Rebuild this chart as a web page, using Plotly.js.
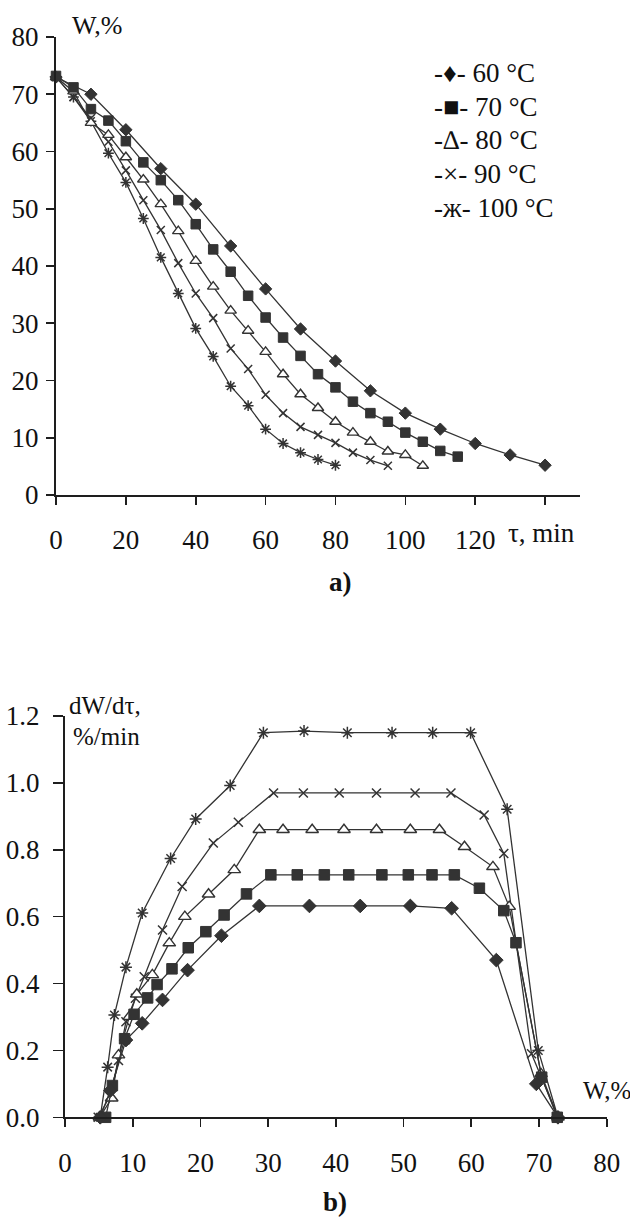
<!DOCTYPE html>
<html><head><meta charset="utf-8">
<script src="https://cdn.plot.ly/plotly-3.0.1.min.js"></script>
<style>html,body{margin:0;padding:0;background:#fff}#chart{width:630px;height:1217px}</style>
</head><body><div id="chart"></div>
<script>
// ---------- data: chart a) W vs tau ----------
const seriesNames = ['60 °C', '70 °C', '80 °C', '90 °C', '100 °C'];
const legendLabels = ['-♦- 60 °C', '-■- 70 °C', '-∆- 80 °C', '-×- 90 °C', '-ж- 100 °C'];

const tau60 = [0, 10, 20, 30, 40, 50, 60, 70, 80, 90, 100, 110, 120, 130, 140];
const W60 = [73, 70, 63.8, 57, 50.8, 43.5, 36, 29, 23.4, 18.2, 14.3, 11.5, 9, 7, 5.2];

const tau70 = [0, 5, 10, 15, 20, 25, 30, 35, 40, 45, 50, 55, 60, 65, 70, 75, 80, 85, 90, 95, 100, 105, 110, 115];
const W70 = [73.2, 71.2, 67.4, 65.4, 61.8, 58.1, 55, 51.5, 47.3, 42.9, 39, 34.8, 31, 27.5, 24.3, 21.1, 18.8, 16.3, 14.3, 12.8, 10.9, 9.3, 7.7, 6.7];

const tau80 = [0, 5, 10, 15, 20, 25, 30, 35, 40, 45, 50, 55, 60, 65, 70, 75, 80, 85, 90, 95, 100, 105];
const W80 = [73, 70.5, 65, 62.9, 59, 55.1, 50.8, 46.1, 40.9, 36.4, 32.2, 28.7, 25, 21.1, 17.6, 15.2, 12.8, 10.9, 9.3, 7.6, 7.0, 5.1];

const tau90 = [0, 5, 10, 15, 20, 25, 30, 35, 40, 45, 50, 55, 60, 65, 70, 75, 80, 85, 90, 95];
const W90 = [73, 69.5, 65.8, 61.7, 56.7, 51.5, 46.3, 40.5, 35.2, 30.9, 25.6, 22, 17.5, 14.3, 11.9, 10.5, 9.1, 7.4, 6.1, 5.1];

const tau100 = [0, 5, 10, 15, 20, 25, 30, 35, 40, 45, 50, 55, 60, 65, 70, 75, 80];
const W100 = [73, 69.5, 65.3, 59.7, 54.6, 48.3, 41.5, 35.2, 29.1, 24.2, 19, 15.6, 11.5, 9, 7.4, 6.2, 5.2];

const xTopTickVals = [0, 20, 40, 60, 80, 100, 120, 140];
const xTopTickText = ['0', '20', '40', '60', '80', '100', '120', ''];
const yTopTickVals = [0, 10, 20, 30, 40, 50, 60, 70, 80];

// ---------- data: chart b) dW/dtau vs W ----------
const Wb60 = [5.2, 6.7, 9.0, 11.4, 14.4, 18.1, 23.1, 28.7, 36.1, 43.6, 51.0, 57.1, 63.7, 69.6, 72.8];
const R60 = [0, 0.08, 0.231, 0.281, 0.351, 0.44, 0.543, 0.632, 0.632, 0.632, 0.632, 0.625, 0.47, 0.10, 0];

const Wb70 = [6.0, 7.0, 8.8, 10.2, 12.2, 13.6, 15.8, 18.2, 20.8, 23.5, 26.8, 30.4, 34.3, 38.3, 41.9, 46.8, 50.7, 54.2, 57.5, 61.2, 64.8, 66.6, 70.4, 72.7];
const R70 = [0, 0.095, 0.235, 0.308, 0.357, 0.397, 0.444, 0.507, 0.555, 0.605, 0.668, 0.725, 0.725, 0.725, 0.725, 0.725, 0.725, 0.725, 0.725, 0.685, 0.618, 0.522, 0.12, 0];

const Wb80 = [5.1, 6.9, 7.9, 9.5, 10.6, 12.9, 15.4, 17.7, 21.2, 25.0, 28.7, 32.2, 36.5, 41.2, 46.0, 51.0, 55.3, 59.0, 63.2, 65.6, 70.3, 72.8];
const R80 = [0, 0.057, 0.186, 0.301, 0.368, 0.426, 0.521, 0.6, 0.667, 0.74, 0.86, 0.86, 0.86, 0.86, 0.86, 0.86, 0.86, 0.809, 0.749, 0.63, 0.13, 0];

const Wb90 = [4.9, 6.6, 7.9, 9.0, 10.4, 11.7, 14.4, 17.3, 21.9, 25.6, 30.8, 35.2, 40.5, 46.0, 51.7, 57.0, 61.9, 64.8, 68.9, 72.8];
const R90 = [0, 0.062, 0.17, 0.286, 0.356, 0.42, 0.56, 0.69, 0.82, 0.882, 0.97, 0.97, 0.97, 0.97, 0.97, 0.97, 0.904, 0.789, 0.19, 0];

const Wb100 = [5.2, 6.3, 7.3, 9.0, 11.4, 15.6, 19.3, 24.4, 29.3, 35.3, 41.7, 48.3, 54.3, 59.9, 65.3, 69.9, 72.8];
const R100 = [0, 0.15, 0.306, 0.449, 0.611, 0.774, 0.892, 0.992, 1.15, 1.155, 1.15, 1.15, 1.15, 1.15, 0.921, 0.20, 0];

const xBotTickVals = [0, 10, 20, 30, 40, 50, 60, 70, 80];
const yBotTickVals = [0, 0.2, 0.4, 0.6, 0.8, 1.0, 1.2];

// ---------- styling ----------
const INK = '#333';
const AX = '#1e1e1e';
const FONT = 'Liberation Serif';
const markerStyles = [
  {symbol: 'diamond', size: 9.5, color: INK, line: {color: INK, width: 1}},
  {symbol: 'square', size: 9.5, color: INK, line: {color: INK, width: 1}},
  {symbol: 'triangle-up', size: 10, color: '#fff', line: {color: INK, width: 1.4}},
  {symbol: 'x-thin-open', size: 8, color: INK, line: {color: INK, width: 1.5}},
  {symbol: 'asterisk-open', size: 9, color: INK, line: {color: INK, width: 1.5}}
];

const topX = [tau60, tau70, tau80, tau90, tau100];
const topY = [W60, W70, W80, W90, W100];
const botX = [Wb60, Wb70, Wb80, Wb90, Wb100];
const botY = [R60, R70, R80, R90, R100];

const traces = [];
for (let i = 4; i >= 0; i--) {
  traces.push({
    type: 'scatter', mode: 'lines+markers', name: seriesNames[i],
    x: topX[i], y: topY[i], xaxis: 'x', yaxis: 'y',
    line: {color: INK, width: 1.3}, marker: markerStyles[i],
    cliponaxis: false, showlegend: false
  });
}
for (let i = 4; i >= 0; i--) {
  traces.push({
    type: 'scatter', mode: 'lines+markers', name: seriesNames[i],
    x: botX[i], y: botY[i], xaxis: 'x2', yaxis: 'y2',
    line: {color: INK, width: 1.3}, marker: Object.assign({}, markerStyles[i], {size: markerStyles[i].size + 1}),
    cliponaxis: false, showlegend: false
  });
}

const W = 630, H = 1217;
const PX = p => p / W;
const PY = p => 1 - p / H;

const axisCommon = {
  showline: true, linecolor: AX, linewidth: 2,
  ticks: 'outside', ticklen: 8, tickwidth: 1.6, tickcolor: AX,
  showgrid: false, zeroline: false, fixedrange: true,
  tickfont: {family: FONT, size: 27, color: '#111'}
};

const ann = (text, x, y, xa, size, extra) => Object.assign({
  text: text, x: PX(x), y: PY(y), xref: 'paper', yref: 'paper',
  xanchor: xa, yanchor: 'middle', showarrow: false,
  font: {family: FONT, size: size, color: '#111'}
}, extra || {});

const annotations = [
  ann('W,%', 70, 25, 'left', 26),
  ann('τ, min', 506, 533, 'left', 27),
  ann('<b>a)</b>', 340, 582, 'center', 27),
  ann('dW/dτ,', 67, 705, 'left', 25),
  ann('%/min', 71, 737, 'left', 25),
  ann('W,%', 581, 1090, 'left', 25),
  ann('<b>b)</b>', 335, 1202, 'center', 27)
];
const legendRows = [73, 107, 140, 174, 208];
legendLabels.forEach((t, i) => annotations.push(ann(t, 432, legendRows[i], 'left', 27)));

const layout = {
  width: W, height: H,
  margin: {l: 0, r: 0, t: 0, b: 0},
  paper_bgcolor: '#fff', plot_bgcolor: '#fff',
  font: {family: FONT, color: '#111'},
  showlegend: false,
  xaxis: Object.assign({}, axisCommon, {
    domain: [PX(56), PX(580)], range: [0, 150], anchor: 'y',
    tickmode: 'array', tickvals: xTopTickVals, ticktext: xTopTickText,
    ticklabelstandoff: 12
  }),
  yaxis: Object.assign({}, axisCommon, {
    domain: [PY(495), PY(37)], range: [0, 80], anchor: 'x',
    tickmode: 'array', tickvals: yTopTickVals, ticklabelstandoff: 2
  }),
  xaxis2: Object.assign({}, axisCommon, {
    domain: [PX(65), PX(606.7)], range: [0, 80], anchor: 'y2',
    tickmode: 'array', tickvals: xBotTickVals, ticklabelstandoff: 12
  }),
  yaxis2: Object.assign({}, axisCommon, {
    domain: [PY(1117.3), PY(716)], range: [0, 1.2], anchor: 'x2',
    tickmode: 'array', tickvals: yBotTickVals, tickformat: '.1f',
    ticklen: 10, ticklabelstandoff: 8
  }),
  annotations: annotations
};

Plotly.newPlot('chart', traces, layout, {displayModeBar: false, staticPlot: true});
</script></body></html>
